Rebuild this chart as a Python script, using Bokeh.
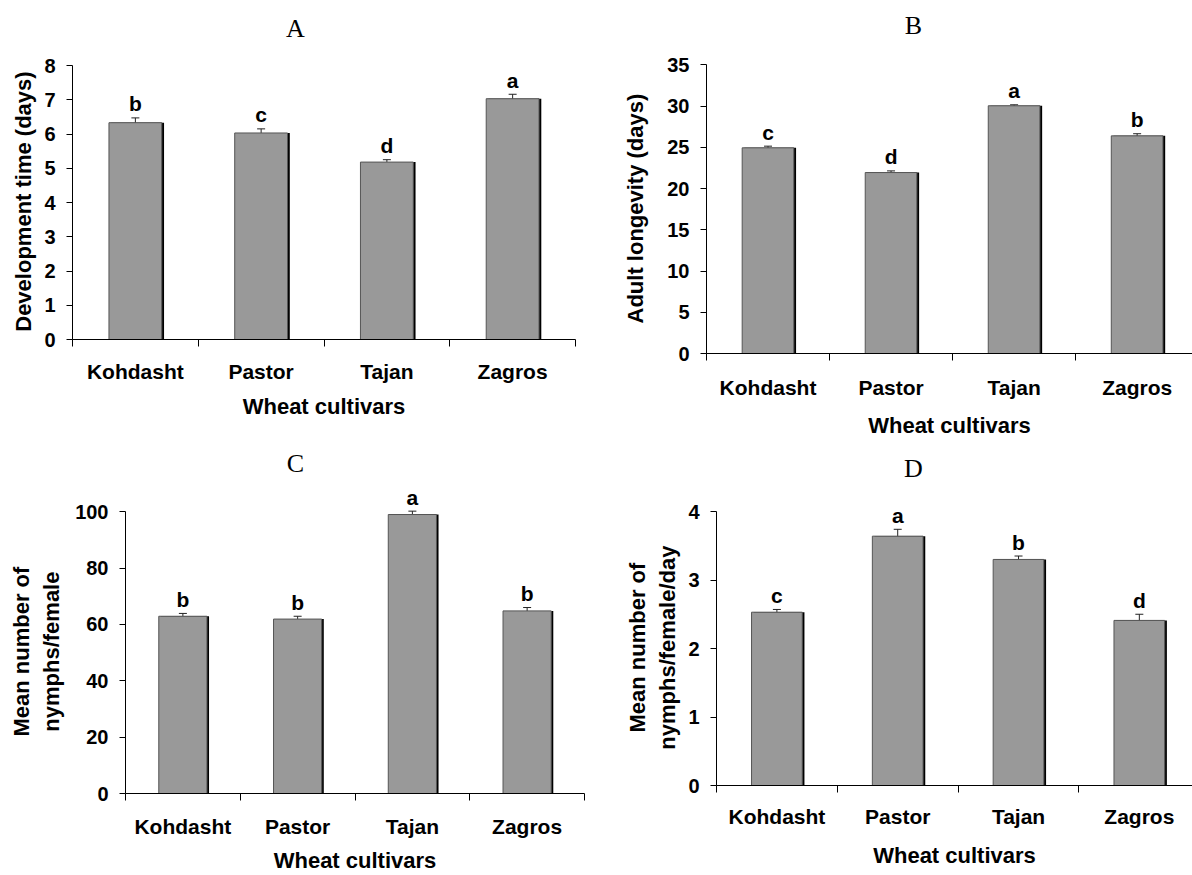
from bokeh.plotting import figure
from bokeh.models import ColumnDataSource, Range1d, FixedTicker, Whisker, TeeHead, Label
from bokeh.layouts import column, row
from bokeh.embed import file_html
from bokeh.resources import INLINE

cultivars = ["Kohdasht", "Pastor", "Tajan", "Zagros"]

dev_time = [6.33, 6.03, 5.18, 7.03]
dev_time_se = [0.14, 0.12, 0.07, 0.13]
dev_time_letters = ["b", "c", "d", "a"]

longevity = [24.95, 21.95, 30.05, 26.4]
longevity_se = [0.2, 0.2, 0.12, 0.26]
longevity_letters = ["c", "d", "a", "b"]

nymphs = [62.9, 61.9, 99.0, 64.8]
nymphs_se = [1.0, 1.0, 1.2, 1.2]
nymphs_letters = ["b", "b", "a", "b"]

nymphs_day = [2.53, 3.64, 3.30, 2.41]
nymphs_day_se = [0.04, 0.10, 0.05, 0.09]
nymphs_day_letters = ["c", "a", "b", "d"]

SANS = "Liberation Sans"
SERIF = "Liberation Serif"


def panel(title, vals, errs, letters, ymax, ystep, ylabel, w, h, bl, br, bb,
          axis_top, axis_bottom, xend, title_xy, yl_standoff, cat_standoff, xl_standoff):
    # frame starts 2px below the top of the figure (room for titles and letters);
    # the drawn y axis spans from axis_top to axis_bottom (pixels inside the figure)
    frame_top = 2
    y_end = ymax * (axis_bottom - frame_top) / (axis_bottom - axis_top)
    p = figure(width=w, height=h, x_range=Range1d(0, xend), y_range=Range1d(0, y_end),
               output_backend="svg", toolbar_location=None,
               min_border_left=bl, min_border_right=br, min_border_top=frame_top,
               min_border_bottom=bb)
    p.outline_line_color = None
    p.background_fill_color = "white"
    p.border_fill_color = "white"
    p.xgrid.visible = False
    p.ygrid.visible = False

    xs = [i + 0.5 for i in range(len(cultivars))]
    upper = [v + e for v, e in zip(vals, errs)]
    lower = [v - e for v, e in zip(vals, errs)]
    src = ColumnDataSource(dict(
        x=xs,
        xs=[x + 0.018 for x in xs],
        top=vals,
        upper=upper,
        lower=lower,
    ))
    p.vbar(x="xs", top="top", bottom=0, width=0.42, source=src,
           fill_color="black", line_color=None)
    p.vbar(x="x", top="top", bottom=0, width=0.42, source=src,
           fill_color="#999999", line_color="#555555", line_width=1)
    p.add_layout(Whisker(source=src, base="x", upper="upper", lower="lower",
                         line_color="#222222", line_width=1,
                         upper_head=TeeHead(size=8, line_color="#222222", line_width=1),
                         lower_head=TeeHead(size=8, line_color="#222222", line_width=1)))
    for x, u, lab in zip(xs, upper, letters):
        p.add_layout(Label(x=x, y=u, text=lab, text_align="center", text_baseline="middle",
                           y_offset=14, text_font=SANS, text_font_style="bold",
                           text_font_size="21px", text_color="black"))

    # panel title
    p.add_layout(Label(x=title_xy[0], y=title_xy[1], x_units="screen", y_units="screen",
                       text=title, text_align="center", text_baseline="middle",
                       text_font=SERIF, text_font_style="normal", text_font_size="26px",
                       text_color="black"))

    # x axis
    xa = p.xaxis[0]
    xa.ticker = FixedTicker(ticks=xs, minor_ticks=[0, 1, 2, 3, 4])
    xa.major_label_overrides = {x: c for x, c in zip(xs, cultivars)}
    xa.major_tick_line_color = None
    xa.major_tick_out = 0
    xa.major_tick_in = 0
    xa.minor_tick_out = 7
    xa.minor_tick_in = 0
    xa.minor_tick_line_color = "black"
    xa.axis_line_color = "black"
    xa.major_label_standoff = cat_standoff
    xa.major_label_text_font = SANS
    xa.major_label_text_font_style = "bold"
    xa.major_label_text_font_size = "21px"
    xa.major_label_text_color = "black"
    xa.axis_label = "Wheat cultivars"
    xa.axis_label_standoff = xl_standoff
    xa.axis_label_text_font = SANS
    xa.axis_label_text_font_style = "bold"
    xa.axis_label_text_font_size = "22px"
    xa.axis_label_text_color = "black"

    # y axis: the label is centred on the frame, so pad it (non-breaking spaces)
    # to centre it on the drawn part of the axis instead
    frame_center = (frame_top + axis_bottom) / 2
    axis_center = (axis_top + axis_bottom) / 2
    pad = "\u00a0" * round(2 * (axis_center - frame_center) / 6.1)
    ya = p.yaxis[0]
    ya.ticker = FixedTicker(ticks=list(range(0, ymax + 1, ystep)), minor_ticks=[])
    ya.bounds = (0, ymax)
    ya.major_tick_out = 6
    ya.major_tick_in = 0
    ya.major_tick_line_color = "black"
    ya.minor_tick_line_color = None
    ya.axis_line_color = "black"
    ya.major_label_standoff = 11
    ya.major_label_text_font = SANS
    ya.major_label_text_font_style = "bold"
    ya.major_label_text_font_size = "20px"
    ya.major_label_text_color = "black"
    ya.axis_label = "\n".join(line + pad for line in ylabel.split("\n"))
    ya.axis_label_standoff = yl_standoff
    ya.axis_label_text_font = SANS
    ya.axis_label_text_font_style = "bold"
    ya.axis_label_text_font_size = "22px"
    ya.axis_label_text_color = "black"
    return p


pA = panel("A", dev_time, dev_time_se, dev_time_letters, 8, 1, "Development time (days)",
           596, 440, 72, 21, 101, 65, 339, 4, (223, 311), 5, 13, 8)
pB = panel("B", longevity, longevity_se, longevity_letters, 35, 5, "Adult longevity (days)",
           596, 440, 110, 0, 84, 65, 356, 3.95, (207, 328), 16, 15, 11)
pC = panel("C", nymphs, nymphs_se, nymphs_letters, 100, 20, "Mean number of\nnymphs/female",
           596, 435, 125, 12, 78, 72, 357, 4, (170, 330), 8, 14, 7)
pD = panel("D", nymphs_day, nymphs_day_se, nymphs_day_letters, 4, 1, "Mean number of\nnymphs/female/day",
           596, 435, 120, 0, 90, 71, 345, 3.94, (197, 317), 5, 12, 12)

layout = column(row(column(pA), column(pB)), row(column(pC), column(pD)))

with open("out.html", "w") as f:
    f.write(file_html(layout, INLINE))
